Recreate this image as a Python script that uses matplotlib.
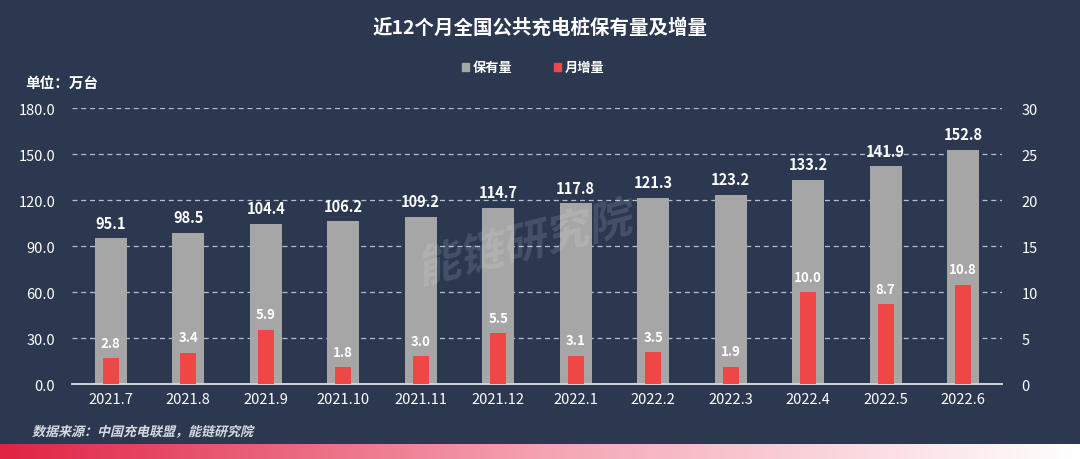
import numpy as np
import matplotlib.pyplot as plt
from matplotlib.colors import LinearSegmentedColormap
from matplotlib.textpath import TextPath
from matplotlib.patches import PathPatch
from matplotlib.font_manager import FontProperties
from matplotlib.transforms import Affine2D, IdentityTransform

plt.rcParams['font.family'] = ['Noto Sans CJK SC', 'DejaVu Sans']

months = ['2021.7', '2021.8', '2021.9', '2021.10', '2021.11', '2021.12',
          '2022.1', '2022.2', '2022.3', '2022.4', '2022.5', '2022.6']
stock = [95.1, 98.5, 104.4, 106.2, 109.2, 114.7, 117.8, 121.3, 123.2, 133.2, 141.9, 152.8]
added = [2.8, 3.4, 5.9, 1.8, 3.0, 5.5, 3.1, 3.5, 1.9, 10.0, 8.7, 10.8]
left_ticks = [0, 30, 60, 90, 120, 150, 180]
right_ticks = [0, 5, 10, 15, 20, 25, 30]

bg = '#2b3850'
gray = '#a6a6a6'
red = '#ef4646'

fig = plt.figure(figsize=(10.8, 4.6), dpi=100, facecolor=bg)
ax = fig.add_axes([0.0667, 0.163, 0.861, 0.6])
ax.set_facecolor(bg)
ax2 = ax.twinx()

x = np.arange(len(months))
ax.bar(x, stock, width=0.41, color=gray, zorder=2)
ax2.bar(x, added, width=0.21, color=red, zorder=3)

ax.set_xlim(-0.5, len(months) - 0.5)
ax.set_ylim(0, 180)
ax2.set_ylim(0, 30)
ax.set_yticks(left_ticks)
ax.set_yticklabels(['%.1f' % v for v in left_ticks])
ax2.set_yticks(right_ticks)
ax.set_xticks(x)
ax.set_xticklabels(months)

ax.grid(axis='y', color='#b8bec8', linestyle=(0, (4, 3)), linewidth=0.9, zorder=0)
ax.set_axisbelow(True)
for a in (ax, ax2):
    for s in ['top', 'left', 'right']:
        a.spines[s].set_visible(False)
    a.spines['bottom'].set_color('#d0d4da')
    a.spines['bottom'].set_linewidth(1.2)
    a.tick_params(length=0, colors='white', labelsize=10.5)
ax.tick_params(axis='y', pad=12)
ax.tick_params(axis='x', pad=6)
ax2.tick_params(axis='y', pad=14)

for i in range(len(months)):
    ax.text(x[i], stock[i] + 5, '%.1f' % stock[i], ha='center', va='bottom',
            color='white', fontsize=10.5, fontweight='bold', zorder=5)
    ax2.text(x[i], added[i] + 0.9, '%.1f' % added[i], ha='center', va='bottom',
             color='white', fontsize=9.5, fontweight='bold', zorder=5)


# slanted text (the CJK font has no italic face)
def slanted(s, px, py, size, color, alpha=1.0, rot=0, shear=14):
    prop = FontProperties(family='Noto Sans CJK SC', weight='bold')
    tp = TextPath((0, 0), s, size=size, prop=prop)
    tr = Affine2D().skew_deg(shear, 0).rotate_deg(rot).translate(px, py) + IdentityTransform()
    fig.patches.append(PathPatch(tp, transform=tr, color=color, alpha=alpha, lw=0, figure=fig))


slanted('能链研究院', 420, 460 - 285, 44, 'white', alpha=0.12, rot=14)
slanted('数据来源：中国充电联盟，能链研究院', 32, 460 - 437, 13, '#d8dbe0')

fig.text(0.5, 0.94, '近12个月全国公共充电桩保有量及增量', ha='center', va='center',
         color='white', fontsize=14, fontweight='bold')
fig.text(0.023, 0.82, '单位：万台', ha='left', va='center', color='white',
         fontsize=10.5, fontweight='bold')

# legend
fig.patches.append(plt.Rectangle((0.428, 0.843), 0.0065, 0.017, color=gray,
                                 transform=fig.transFigure, figure=fig))
fig.text(0.438, 0.852, '保有量', ha='left', va='center', color='white', fontsize=9.5, fontweight='bold')
fig.patches.append(plt.Rectangle((0.5125, 0.843), 0.0065, 0.017, color=red,
                                 transform=fig.transFigure, figure=fig))
fig.text(0.5225, 0.852, '月增量', ha='left', va='center', color='white', fontsize=9.5, fontweight='bold')

# bottom gradient strip
gax = fig.add_axes([0, 0, 1, 0.033])
grad = np.linspace(0, 1, 256).reshape(1, -1)
cmap = LinearSegmentedColormap.from_list('strip', ['#e02444', '#f4a3b2', '#ffffff'])
gax.imshow(grad, aspect='auto', cmap=cmap)
gax.axis('off')

fig.savefig('out.png', dpi=100, facecolor=bg)
